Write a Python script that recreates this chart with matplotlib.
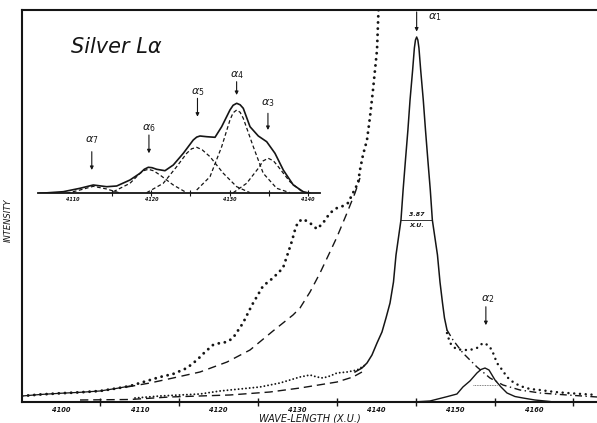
import matplotlib
matplotlib.use("Agg")
import matplotlib.pyplot as plt

# ---------------- data (wavelength in X.U., intensity arbitrary 0-100) ----------------
# observed spectrum, magnified scale (large dots)
obs_mag_wl = [4095.05, 4097.34, 4099.87, 4102.41, 4104.95, 4107.10, 4108.75, 4110.02, 4111.29,
              4112.56, 4114.21, 4115.98, 4117.25, 4118.27, 4119.28, 4120.17, 4121.06, 4121.82,
              4123.09, 4124.23, 4125.63, 4126.89, 4128.16, 4128.80, 4129.30, 4129.68, 4130.06,
              4130.70, 4131.59, 4132.47, 4133.24, 4134.12, 4135.01, 4135.77, 4136.41, 4137.04,
              4137.68, 4137.93, 4138.31, 4138.82, 4139.20, 4139.58, 4140.09, 4140.28]
obs_mag_i = [1.53, 1.91, 2.22, 2.47, 2.81, 3.49, 4.08, 4.85, 5.61,
             6.38, 7.14, 8.67, 10.71, 12.76, 14.54, 15.05, 15.31, 16.33,
             20.15, 24.74, 29.59, 31.63, 34.18, 38.01, 41.07, 43.88, 45.92,
             46.68, 45.66, 44.13, 45.66, 48.21, 49.49, 50.00, 50.77, 53.32,
             55.87, 59.18, 63.01, 66.84, 72.70, 79.59, 89.80, 100.0]
n_line_part = 7  # first points drawn also as a continuous line

# alpha1 tail, magnified scale (dashed)
tail_mag_wl = [4108.37, 4111.29, 4114.21, 4117.63, 4121.06, 4123.98, 4126.89, 4129.43, 4130.32,
               4131.59, 4132.86, 4134.12, 4135.01, 4136.28, 4137.30, 4137.93]
tail_mag_i = [3.83, 4.85, 6.12, 7.65, 10.20, 13.27, 18.11, 22.19, 23.98,
              28.06, 32.91, 38.27, 42.09, 48.21, 53.32, 57.14]

# alpha1 line, normal scale (solid)
a1_wl = [4137.30, 4138.18, 4138.82, 4139.45, 4140.09, 4140.72, 4141.23, 4141.74, 4142.18,
         4142.50, 4143.13, 4143.40, 4143.70, 4144.01, 4144.28, 4144.61, 4144.83, 4144.97,
         4145.12, 4145.27, 4145.41, 4145.63, 4145.96, 4146.24, 4146.54, 4146.85, 4147.11,
         4147.76, 4148.08, 4148.40, 4148.65, 4148.97]
a1_i = [7.65, 8.67, 9.95, 11.99, 15.05, 17.86, 21.43, 25.25, 30.61,
        37.50, 46.43, 54.08, 61.73, 69.39, 77.04, 84.69, 90.31, 92.35,
        93.11, 92.35, 90.31, 84.69, 77.04, 69.39, 61.73, 54.08, 46.43,
        37.50, 30.61, 25.25, 21.43, 18.37]

# alpha1 tails, normal scale (dashed)
a1_tail_left_wl = [4102.41, 4108.75, 4113.83, 4121.44, 4126.51, 4130.32, 4135.01, 4137.04, 4138.18]
a1_tail_left_i = [0.51, 0.64, 1.28, 1.79, 2.55, 3.57, 5.10, 6.38, 7.65]
a1_tail_right_wl = [4148.97, 4149.73, 4150.99, 4152.77, 4154.42, 4156.07, 4158.23, 4160.76, 4164.19, 4168.0]
a1_tail_right_i = [18.37, 15.82, 12.50, 8.93, 6.12, 4.34, 3.06, 2.30, 1.79, 1.28]

# observed spectrum, normal scale (small dots)
obs_left_wl = [4109.39, 4112.56, 4115.10, 4117.63, 4120.17, 4122.71, 4125.24, 4127.78, 4130.32,
               4131.59, 4132.47, 4133.24, 4134.12, 4135.01, 4136.28, 4137.55, 4138.82]
obs_left_i = [1.02, 1.53, 1.79, 2.04, 2.81, 3.32, 3.83, 4.85, 6.38,
              6.89, 6.38, 6.12, 6.63, 7.40, 7.65, 8.16, 9.69]
obs_right_wl = [4148.97, 4149.35, 4150.11, 4150.99, 4151.88, 4152.77, 4153.53, 4154.16, 4154.67,
                4155.31, 4156.07, 4156.58, 4157.34, 4158.23, 4159.50, 4160.76, 4162.67, 4164.19, 4168.0]
obs_right_i = [17.6, 15.05, 13.52, 13.27, 13.27, 13.78, 15.05, 14.54, 13.27,
               9.95, 7.91, 6.38, 5.10, 4.08, 3.32, 3.06, 2.55, 2.30, 1.79]

# alpha2 component (solid)
a2_wl = [4144.65, 4146.81, 4148.97, 4150.23, 4150.99, 4151.88, 4152.77, 4153.28, 4153.79,
         4154.30, 4155.06, 4155.82, 4156.58, 4157.59, 4158.61, 4160.13, 4162.03]
a2_i = [0.0, 0.26, 1.36, 2.04, 3.83, 5.36, 7.40, 8.29, 8.67,
        8.16, 5.61, 3.83, 2.30, 1.40, 1.02, 0.51, 0.13]

a1_fwhm_wl = [4143.13, 4147.11]
a1_half = 46.43
a2_fwhm_wl = [4152.26, 4155.31]
a2_half = 4.34

main_major_ticks = [4105, 4115, 4125, 4135, 4145, 4155, 4165]
main_tick_labels = [4100, 4110, 4120, 4130, 4140, 4150, 4160]

# ---------------- inset data ----------------
ins_total_wl = [4105.79, 4108.76, 4110.89, 4112.59, 4114.30, 4115.58, 4117.28, 4118.56, 4119.10,
                4119.62, 4120.10, 4120.69, 4121.75, 4122.81, 4124.09, 4125.36, 4125.80, 4126.22,
                4127.08, 4128.14, 4128.99, 4130.05, 4130.45, 4130.91, 4131.35, 4131.75, 4132.61,
                4133.67, 4134.74, 4135.80, 4136.86, 4138.14, 4139.41, 4140.27]
ins_total_i = [0, 1.6, 5.0, 8.3, 6.6, 7.3, 13.3, 20.0, 24.0,
               26.0, 25.6, 24.0, 22.6, 28.3, 40.0, 53.3, 56.2, 57.3,
               56.6, 56.0, 66.6, 83.3, 88.0, 90.0, 88.5, 85.0, 66.6,
               57.3, 51.6, 40.0, 23.3, 8.3, 1.6, 0]
a7_wl = [4109.20, 4110.89, 4112.59, 4114.30, 4116.00]
a7_i = [0, 3.3, 7.0, 4.3, 0.3]
a6_wl = [4115.15, 4117.28, 4118.56, 4119.10, 4119.62, 4120.30, 4121.11, 4122.81, 4124.52]
a6_i = [1.6, 10.0, 20.0, 22.8, 24.0, 22.5, 18.3, 8.3, 0.6]
a5_wl = [4119.41, 4121.53, 4123.24, 4124.52, 4125.15, 4125.80, 4126.50, 4127.50, 4129.20,
         4130.91, 4132.61]
a5_i = [0.6, 10.0, 26.6, 40.0, 44.5, 46.0, 43.5, 36.6, 20.0, 6.6, 0.6]
a4_wl = [4125.80, 4127.50, 4128.99, 4130.05, 4130.45, 4130.91, 4131.35, 4131.75, 4133.03,
         4134.30, 4136.02, 4137.71]
a4_i = [3.3, 16.6, 46.6, 73.3, 80.5, 83.3, 81.0, 75.0, 46.6, 20.0, 5.0, 0.6]
a3_wl = [4130.47, 4132.18, 4133.67, 4134.30, 4134.94, 4135.60, 4136.22, 4137.71, 4139.41]
a3_i = [0.6, 10.0, 25.0, 32.5, 35.0, 32.5, 26.6, 11.6, 0.6]

ins_major_ticks = [4115, 4120, 4125, 4130, 4135, 4140]
ins_tick_labels = [4110, 4120, 4130, 4140]

# inset labels: (text, wl, label_y, arrow_top, arrow_bottom)
ins_labels = [(r'$\alpha_7$', 4112.4, 53.3, 41.6, 23.3),
              (r'$\alpha_6$', 4119.7, 65.0, 58.3, 40.0),
              (r'$\alpha_5$', 4125.9, 101.6, 95.0, 76.6),
              (r'$\alpha_4$', 4130.9, 118.3, 111.6, 98.3),
              (r'$\alpha_3$', 4134.9, 90.0, 80.0, 63.3)]
main_labels = [(r'$\alpha_1$', 4145.12, 4146.6, 98.1, 99.5, 94.5),
               (r'$\alpha_2$', 4153.9, 4154.1, 26.3, 24.3, 19.6)]

# ---------------- drawing ----------------
plt.rcParams['mathtext.fontset'] = 'dejavusans'
ink = '#151515'

fig = plt.figure(figsize=(5.97, 4.23), dpi=100)
ax = fig.add_axes([22 / 597, 21 / 423, 575 / 597, 392 / 423])
ax.set_xlim(4095.05, 4168.0)
ax.set_ylim(0, 100)

# magnified observed (big dots)
ax.plot(obs_mag_wl, obs_mag_i, color=ink, lw=2.1, linestyle=(0, (0.01, 2.1)),
        dash_capstyle='round')
ax.plot(obs_mag_wl[:n_line_part], obs_mag_i[:n_line_part], color=ink, lw=0.9)
# magnified tail (dashed)
ax.plot(tail_mag_wl, tail_mag_i, color=ink, lw=1.0, linestyle=(0, (6, 4)))
# alpha1 solid
ax.plot(a1_wl, a1_i, color=ink, lw=1.1)
# tails at normal scale
ax.plot(a1_tail_left_wl, a1_tail_left_i, color=ink, lw=1.0, linestyle=(0, (6, 3.5)))
ax.plot(a1_tail_right_wl, a1_tail_right_i, color=ink, lw=1.0, linestyle=(0, (5, 2.5, 1, 2.5)))
# observed normal scale (small dots)
ax.plot(obs_left_wl, obs_left_i, color=ink, lw=1.4, linestyle=(0, (0.01, 1.9)),
        dash_capstyle='round')
ax.plot(obs_right_wl, obs_right_i, color=ink, lw=1.8, linestyle=(0, (0.01, 2.3)),
        dash_capstyle='round')
# alpha2 component
ax.plot(a2_wl, a2_i, color=ink, lw=1.0)

# widths
ax.plot(a1_fwhm_wl, [a1_half, a1_half], color=ink, lw=0.6)
ax.plot(a2_fwhm_wl, [a2_half, a2_half], color='#555555', lw=0.6, linestyle=(0, (1, 1)))
ax.text(sum(a1_fwhm_wl) / 2, a1_half + 0.8, '3.87', ha='center', va='bottom',
        fontsize=4.5, style='italic', fontweight='bold', color=ink)
ax.text(sum(a1_fwhm_wl) / 2, a1_half - 0.8, 'X.U.', ha='center', va='top',
        fontsize=4.5, style='italic', fontweight='bold', color=ink)

for txt, xa, xt, yt, y0, y1 in main_labels:
    ax.annotate('', xy=(xa, y1), xytext=(xa, y0),
                arrowprops=dict(arrowstyle='-|>', lw=0.8, color=ink, mutation_scale=5,
                                shrinkA=0, shrinkB=0))
    ax.text(xt, yt, txt, fontsize=8, ha='left' if txt.endswith('1$') else 'center',
            va='center', color=ink)

for s in ['right']:
    ax.spines[s].set_visible(False)
for s in ['left', 'top', 'bottom']:
    ax.spines[s].set_linewidth(1.5)
    ax.spines[s].set_color(ink)
ax.set_yticks([])
ax.set_xticks(main_major_ticks)
ax.set_xticklabels([])
ax.tick_params(axis='x', which='major', direction='inout', length=6, width=1.0, color=ink)
ax.xaxis.remove_overlapping_locs = False
ax.set_xticks(main_tick_labels, minor=True)
ax.set_xticklabels([str(v) for v in main_tick_labels], minor=True, fontsize=4.8,
                   style='italic', fontweight='bold', color=ink)
ax.tick_params(axis='x', which='minor', length=0, pad=3.5)
ax.set_xlabel('WAVE-LENGTH (X.U.)', fontsize=7, style='italic', labelpad=0.5, color=ink)

fig.text(8 / 597, 1 - 220 / 423, 'INTENSITY', rotation=90, fontsize=6, style='italic',
         ha='center', va='center', color=ink)
fig.text(116 / 597, 1 - 47 / 423, 'Silver L\u03b1', fontsize=15, style='italic',
         ha='center', va='center', color=ink)

# ---------------- inset ----------------
axi = fig.add_axes([38 / 597, (423 - 193.3) / 423, 282 / 597, 120 / 423])
axi.set_xlim(4105.53, 4141.55)
axi.set_ylim(0, 120)
axi.patch.set_alpha(0)
for s in ['right', 'top', 'left']:
    axi.spines[s].set_visible(False)
axi.spines['bottom'].set_linewidth(1.3)
axi.spines['bottom'].set_color(ink)
axi.plot(ins_total_wl, ins_total_i, color=ink, lw=1.2)
for wl, iv in [(a7_wl, a7_i), (a6_wl, a6_i), (a5_wl, a5_i), (a4_wl, a4_i), (a3_wl, a3_i)]:
    axi.plot(wl, iv, color=ink, lw=0.9, linestyle=(0, (3, 2)))
axi.set_yticks([])
axi.set_xticks(ins_major_ticks)
axi.set_xticklabels([])
axi.tick_params(axis='x', which='major', direction='inout', length=4, width=0.8, color=ink)
axi.xaxis.remove_overlapping_locs = False
axi.set_xticks(ins_tick_labels, minor=True)
axi.set_xticklabels([str(v) for v in ins_tick_labels], minor=True, fontsize=3.5,
                    style='italic', fontweight='bold', color=ink)
axi.tick_params(axis='x', which='minor', length=0, pad=3)
for txt, xa, yl, y0, y1 in ins_labels:
    axi.annotate('', xy=(xa, y1), xytext=(xa, y0),
                 arrowprops=dict(arrowstyle='-|>', lw=0.8, color=ink, mutation_scale=5,
                                 shrinkA=0, shrinkB=0))
    axi.text(xa, yl, txt, fontsize=8, ha='center', va='center', color=ink)

fig.savefig('out.png', dpi=100)
